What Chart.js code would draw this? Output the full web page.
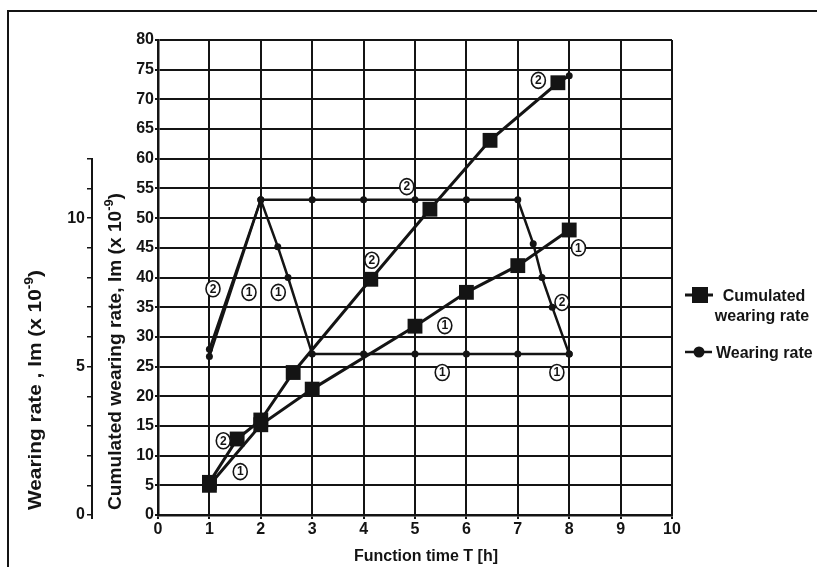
<!DOCTYPE html>
<html>
<head>
<meta charset="utf-8">
<script src="https://cdn.jsdelivr.net/npm/chart.js@4/dist/chart.umd.min.js"></script>
<style>
  html, body { margin: 0; padding: 0; background: #fff; }
  canvas { display: block; }
</style>
</head>
<body>
<canvas id="wear-chart" width="817" height="567"></canvas>
<script>
// Cumulated wearing rate, Im (x 10^-9) -- curve 1
const cum1Hours = [1, 2, 3, 5, 6, 7, 8];
const cum1Values = [5, 15.2, 21.2, 31.8, 37.5, 42, 48];

// Cumulated wearing rate -- curve 2 (ends on a small dot at 8 h)
const cum2Hours = [1, 1.54, 2, 2.63, 4.14, 5.29, 6.46, 7.78, 8];
const cum2Values = [5.5, 12.8, 16, 24, 39.7, 51.5, 63.1, 72.8, 74];

// Wearing rate, Im (x 10^-9) -- curves 1 and 2
const wr1Hours = [1, 2, 2.33, 2.53, 3, 4, 5, 6, 7, 8];
const wr1Values = [5.34, 10.62, 9.04, 8.0, 5.42, 5.42, 5.42, 5.42, 5.42, 5.42];
const wr2Hours = [1, 2, 3, 4, 5, 6, 7, 7.3, 7.47, 7.67, 8];
const wr2Values = [5.58, 10.62, 10.62, 10.62, 10.62, 10.62, 10.62, 9.14, 8.0, 7.0, 5.42];

// axis ticks
const hourTicks = [0, 1, 2, 3, 4, 5, 6, 7, 8, 9, 10];
const cumTicks = [0, 5, 10, 15, 20, 25, 30, 35, 40, 45, 50, 55, 60, 65, 70, 75, 80];
const wrTicks = [0, 1, 2, 3, 4, 5, 6, 7, 8, 9, 10, 11, 12];
const wrLabelled = [0, 5, 10];

// circled curve numbers, in hours / cumulated-axis units
const tagHours = [1.07, 1.77, 2.34, 1.27, 1.6, 4.16, 4.84, 7.4, 8.18, 7.86, 5.58, 5.53, 7.76];
const tagValues = [38.1, 37.5, 37.5, 12.5, 7.3, 42.9, 55.3, 73.2, 45, 35.8, 31.9, 24, 24];
const tagText = ['2', '1', '1', '2', '1', '2', '2', '2', '1', '2', '1', '1', '1'];

const BLACK = '#141414';
const FONT = "'Liberation Sans', Arial, sans-serif";

function toPoints(xs, ys) {
  return xs.map((x, i) => ({ x: x, y: ys[i] }));
}

function drawVerticalTitle(ctx, cx, bottom, length, main, sup, tail) {
  const big = `bold 18px ${FONT}`;
  const small = `bold 12px ${FONT}`;
  ctx.save();
  ctx.translate(cx, bottom);
  ctx.rotate(-Math.PI / 2);
  ctx.font = big;
  const w1 = ctx.measureText(main).width;
  const w3 = ctx.measureText(tail).width;
  ctx.font = small;
  const w2 = ctx.measureText(sup).width;
  ctx.scale(length / (w1 + w2 + w3), 1);
  ctx.fillStyle = BLACK;
  ctx.textAlign = 'left';
  ctx.textBaseline = 'middle';
  ctx.font = big;
  ctx.fillText(main, 0, 0);
  ctx.font = small;
  ctx.fillText(sup, w1, -6);
  ctx.font = big;
  ctx.fillText(tail, w1 + w2, 0);
  ctx.restore();
}

const decorations = {
  id: 'decorations',
  beforeDraw(chart) {
    const ctx = chart.ctx;
    ctx.save();
    ctx.fillStyle = '#fff';
    ctx.fillRect(0, 0, chart.width, chart.height);
    // frame of the scanned figure (top and left edges only)
    ctx.strokeStyle = BLACK;
    ctx.lineWidth = 2;
    ctx.beginPath();
    ctx.moveTo(8, chart.height);
    ctx.lineTo(8, 11);
    ctx.lineTo(chart.width, 11);
    ctx.stroke();
    ctx.restore();
  },
  afterDatasetsDraw(chart) {
    const ctx = chart.ctx;
    const xs = chart.scales.x, ys = chart.scales.y;
    ctx.save();
    ctx.font = `bold 12px ${FONT}`;
    ctx.textAlign = 'center';
    ctx.textBaseline = 'middle';
    tagText.forEach((t, i) => {
      const px = xs.getPixelForValue(tagHours[i]);
      const py = ys.getPixelForValue(tagValues[i]);
      ctx.beginPath();
      ctx.ellipse(px, py, 7, 8, 0, 0, Math.PI * 2);
      ctx.fillStyle = '#fff';
      ctx.fill();
      ctx.lineWidth = 1.6;
      ctx.strokeStyle = BLACK;
      ctx.stroke();
      ctx.fillStyle = BLACK;
      ctx.fillText(t, px, py + 0.5);
    });
    ctx.restore();
  },
  afterDraw(chart) {
    const ctx = chart.ctx;
    const y2 = chart.scales.y2;
    ctx.save();
    // wearing rate axis line, only over its used range
    ctx.strokeStyle = BLACK;
    ctx.lineWidth = 2;
    ctx.beginPath();
    ctx.moveTo(y2.right - 1, y2.getPixelForValue(wrTicks[wrTicks.length - 1]));
    ctx.lineTo(y2.right - 1, y2.getPixelForValue(0) + 4);
    ctx.stroke();

    drawVerticalTitle(ctx, 36, 510, 240, 'Wearing rate , Im (x 10', '-9', ')');
    drawVerticalTitle(ctx, 116, 510, 317, 'Cumulated wearing rate, Im (x 10', '-9', ')');

    ctx.fillStyle = BLACK;
    ctx.font = `bold 16px ${FONT}`;
    ctx.textAlign = 'center';
    ctx.textBaseline = 'middle';
    ctx.fillText('Function time T [h]', 426, 557);

    // legend
    ctx.lineWidth = 3;
    ctx.beginPath();
    ctx.moveTo(685, 295);
    ctx.lineTo(713, 295);
    ctx.stroke();
    ctx.fillRect(692, 287, 16, 16);
    ctx.lineWidth = 2.5;
    ctx.beginPath();
    ctx.moveTo(685, 352);
    ctx.lineTo(712, 352);
    ctx.stroke();
    ctx.beginPath();
    ctx.arc(699, 352, 5.5, 0, Math.PI * 2);
    ctx.fill();
    ctx.textAlign = 'center';
    ctx.fillText('Cumulated', 764, 297);
    ctx.fillText('wearing rate', 762, 317);
    ctx.textAlign = 'left';
    ctx.fillText('Wearing rate', 716, 354);
    ctx.restore();
  }
};

const cumLast = cum2Hours.length - 1;

new Chart(document.getElementById('wear-chart'), {
  type: 'line',
  data: {
    datasets: [
      {
        label: 'Cumulated wearing rate 1',
        data: toPoints(cum1Hours, cum1Values),
        yAxisID: 'y',
        borderColor: BLACK,
        borderWidth: 3,
        pointStyle: 'rect',
        pointRadius: 10.5,
        pointBackgroundColor: BLACK,
        pointBorderWidth: 0
      },
      {
        label: 'Cumulated wearing rate 2',
        data: toPoints(cum2Hours, cum2Values),
        yAxisID: 'y',
        borderColor: BLACK,
        borderWidth: 3,
        pointStyle: c => (c.dataIndex === cumLast ? 'circle' : 'rect'),
        pointRadius: c => (c.dataIndex === cumLast ? 3.5 : 10.5),
        pointBackgroundColor: BLACK,
        pointBorderWidth: 0
      },
      {
        label: 'Wearing rate 1',
        data: toPoints(wr1Hours, wr1Values),
        yAxisID: 'y2',
        borderColor: BLACK,
        borderWidth: 2.5,
        pointRadius: 3.5,
        pointBackgroundColor: BLACK,
        pointBorderWidth: 0
      },
      {
        label: 'Wearing rate 2',
        data: toPoints(wr2Hours, wr2Values),
        yAxisID: 'y2',
        borderColor: BLACK,
        borderWidth: 2.5,
        pointRadius: 3.5,
        pointBackgroundColor: BLACK,
        pointBorderWidth: 0
      }
    ]
  },
  options: {
    responsive: false,
    animation: false,
    events: [],
    layout: { padding: { left: 8, right: 145, top: 40, bottom: 0 } },
    plugins: {
      legend: { display: false },
      tooltip: { enabled: false }
    },
    scales: {
      x: {
        type: 'linear',
        min: 0,
        max: 10,
        afterBuildTicks: s => { s.ticks = hourTicks.map(v => ({ value: v })); },
        afterFit: s => { s.height = 52; },
        ticks: {
          color: BLACK,
          font: { family: FONT, size: 16, weight: 'bold' },
          padding: 1,
          maxRotation: 0,
          autoSkip: false
        },
        grid: { color: BLACK, lineWidth: 2, tickLength: 4 },
        border: { color: BLACK, width: 2.5 }
      },
      y: {
        type: 'linear',
        position: 'left',
        weight: 0,
        min: 0,
        max: 80,
        afterBuildTicks: s => { s.ticks = cumTicks.map(v => ({ value: v })); },
        afterFit: s => { s.width = 65; },
        ticks: {
          color: BLACK,
          font: { family: FONT, size: 16, weight: 'bold' },
          padding: 1,
          autoSkip: false
        },
        grid: { color: BLACK, lineWidth: 2, tickLength: 3 },
        border: { color: BLACK, width: 2.5 }
      },
      y2: {
        type: 'linear',
        position: 'left',
        weight: 1,
        min: 0,
        max: 16,
        afterBuildTicks: s => { s.ticks = wrTicks.map(v => ({ value: v })); },
        afterFit: s => { s.width = 85; },
        ticks: {
          color: BLACK,
          font: { family: FONT, size: 16, weight: 'bold' },
          padding: 2,
          autoSkip: false,
          callback: v => (wrLabelled.includes(v) ? String(v) : '')
        },
        grid: { drawOnChartArea: false, color: BLACK, lineWidth: 1.5, tickLength: 6 },
        border: { display: false }
      }
    }
  },
  plugins: [decorations]
});
</script>
</body>
</html>
